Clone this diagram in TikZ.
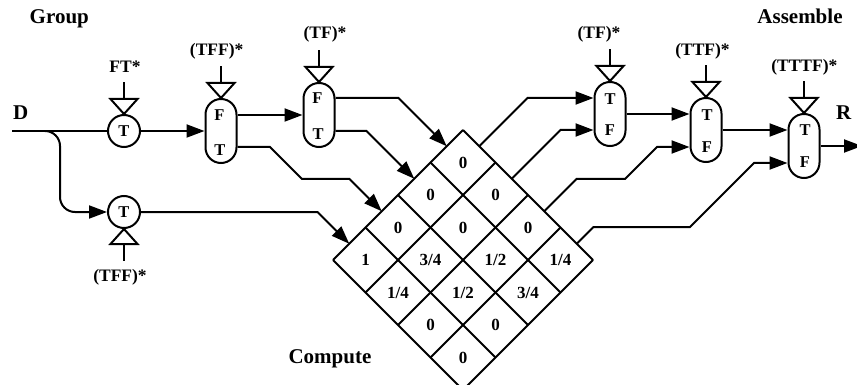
\documentclass[tikz,border=0pt]{standalone}
\usepackage{fontspec}
\setmainfont{Liberation Serif}
\usetikzlibrary{arrows.meta,calc}
\begin{document}
\begin{tikzpicture}[x=1pt,y=-1pt,line width=2pt,
  hd/.style={font=\fontsize{21}{25}\selectfont\bfseries,anchor=base,inner sep=0pt},
  lbl/.style={font=\fontsize{17.5}{21}\selectfont\bfseries,inner sep=0pt},
  inl/.style={font=\fontsize{16.5}{20}\selectfont\bfseries,inner sep=0pt},
  cellv/.style={font=\fontsize{17}{20}\selectfont\bfseries,inner sep=0pt},
  gate/.style={draw,circle,minimum size=32pt,inner sep=0pt},
  capsule/.style={draw,rectangle,rounded corners=15.5pt,minimum width=31pt,minimum height=64pt,inner sep=0pt},
  arr/.style={-{Triangle[length=18pt,width=13pt]}}
]
\useasboundingbox (0,0) rectangle (857,385);
\clip (0,0) rectangle (857,385);

% headings
\node[hd] (hgroup) at (59.3,24) {Group};
\node[hd] (hassemble) at (800,23.3) {Assemble};
\node[hd] (hcompute) at (330,363.3) {Compute};
\node[hd] (hd) at (20.8,119.3) {D};
\node[hd] (hr) at (843.8,119.5) {R};

% gates
\node[gate] (t1) at (124,131) {};
\node[inl] (t1l) at (124,131) {T};
\node[gate] (t2) at (124,212) {};
\node[inl] (t2l) at (124,212) {T};

\node[capsule] (c1) at (221,131) {};
\node[inl] (c1a) at (219.5,115) {F};
\node[inl] (c1b) at (220,150.5) {T};
\node[capsule] (c2) at (319,115) {};
\node[inl] (c2a) at (317.5,98.5) {F};
\node[inl] (c2b) at (318,134.5) {T};
\node[capsule] (c3) at (610,114) {};
\node[inl] (c3a) at (610,99) {T};
\node[inl] (c3b) at (610,130.5) {F};
\node[capsule] (c4) at (706,130) {};
\node[inl] (c4a) at (707,115.3) {T};
\node[inl] (c4b) at (707,147) {F};
\node[capsule] (c5) at (804,146) {};
\node[inl] (c5a) at (805,130.5) {T};
\node[inl] (c5b) at (805,162.5) {F};

% valves (top)
\foreach \n in {t1,c1,c2,c3,c4,c5}{
  \draw (\n.north) -- ++(-13.5,-15) -- ++(27,0) -- cycle;
  \draw ([yshift=15pt]\n.north) -- ++(0,-16.5);
}
% valve (bottom)
\draw (t2.south) -- ++(-13.5,15) -- ++(27,0) -- cycle;
\draw ([yshift=-15pt]t2.south) -- ++(0,16.5);

% valve labels
\node[lbl] (v1) at (125,66.3) {FT*};
\node[lbl] (v2) at (216.7,50.8) {(TFF)*};
\node[lbl] (v3) at (325,34) {(TF)*};
\node[lbl] (v4) at (599,34) {(TF)*};
\node[lbl] (v5) at (702.5,50.8) {(TTF)*};
\node[lbl] (v6) at (804.3,67) {(TTTF)*};
\node[lbl] (v7) at (120,277) {(TFF)*};

% diamond grid
\def\h{32.5}
\foreach \k in {0,...,4}{
  \draw (463-\k*\h,130+\k*\h) -- ++(4*\h,4*\h);
  \draw (463+\k*\h,130+\k*\h) -- ++(-4*\h,4*\h);
}
\foreach \i/\j/\v in {0/0/0,0/1/0,0/2/0,0/3/1\slash4,
                      1/0/0,1/1/0,1/2/1\slash2,1/3/3\slash4,
                      2/0/0,2/1/3\slash4,2/2/1\slash2,2/3/0,
                      3/0/1,3/1/1\slash4,3/2/0,3/3/0}{
  \node[cellv] (m\i\j) at ({463+\h*(\j-\i)},{130+\h*(\i+\j+1)}) {\v};
}

% diamond ports
\coordinate (in0) at (446.75,146.25);
\coordinate (in1) at (414.25,178.75);
\coordinate (in2) at (381.75,211.25);
\coordinate (in3) at (349.25,243.75);
\coordinate (out0) at (479.25,146.25);
\coordinate (out1) at (511.75,178.75);
\coordinate (out2) at (544.25,211.25);
\coordinate (out3) at (576.75,243.75);

% input line
\coordinate (dstart) at (12,131);
\coordinate (split) at (45,131);
\coordinate (rend) at (862,146);
\draw (dstart) -- (t1);
\draw[arr] (t1) -- (c1);
\draw[arr,rounded corners=15pt] (split) -- (60,131) -- (60,212) -- (t2);

% group stage
\draw[arr] ([yshift=16pt]c1.east) -- (c2.west);
\draw[arr] ([yshift=-16pt]c1.east) -- (270,147) -- (302,179) -- (349.5,179) -- (in2);
\draw[arr] ([yshift=17pt]c2.east) -- (398.5,98) -- (in0);
\draw[arr] ([yshift=-16pt]c2.east) -- (366.5,131) -- (in1);
\draw[arr] (t2.east) -- (317.5,212) -- (in3);

% assemble stage
\draw[arr] (out0) -- (527.5,98) -- ([yshift=16pt]c3.west);
\draw[arr] (out1) -- (560.5,130) -- ([yshift=-16pt]c3.west);
\draw[arr] (c3.east) -- ([yshift=16pt]c4.west);
\draw[arr] (out2) -- (576.5,179) -- (625,179) -- (657,147) -- ([yshift=-17pt]c4.west);
\draw[arr] (c4.east) -- ([yshift=16pt]c5.west);
\draw[arr] (out3) -- (593.5,227) -- (690,227) -- (754,163) -- ([yshift=-17pt]c5.west);
\draw[arr] (c5.east) -- (rend);
\end{tikzpicture}
\end{document}
